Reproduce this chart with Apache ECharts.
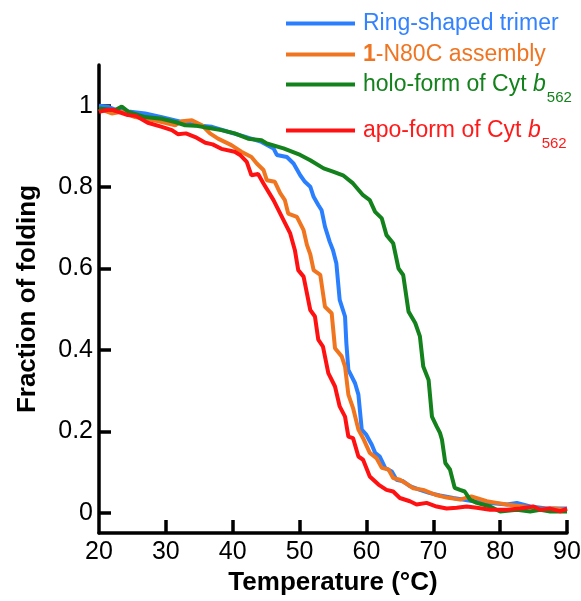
<!DOCTYPE html>
<html>
<head>
<meta charset="utf-8">
<script src="https://cdn.jsdelivr.net/npm/echarts@6/dist/echarts.min.js"></script>
<style>
    html, body { margin: 0; padding: 0; background: #fff; }
    #main { width: 581px; height: 601px; }
</style>
</head>
<body>
<div id="main"></div>
<script>
// 温度 / 折叠分数 数据
const ringT = [20, 21.4, 22.5, 24.4, 26.9, 29.4, 31.9, 34.4, 36.9, 39.3, 41.8, 44.3, 46.1, 46.6, 48.1, 49.1, 50.1, 50.8, 51.6, 52.1, 52.8, 53.3, 53.8, 54.5, 55, 55.5, 56, 56.8, 57, 57.3, 58.3, 58.8, 59.3, 60, 60.8, 61.3, 62, 62.8, 63.8, 64.5, 65.5, 66.5, 68, 69.5, 71, 73, 76, 78.5, 81, 82.5, 84.5, 87, 90]
const ringV = [1.0, 0.997, 0.99, 0.986, 0.981, 0.972, 0.962, 0.952, 0.948, 0.936, 0.924, 0.911, 0.895, 0.879, 0.874, 0.858, 0.829, 0.813, 0.801, 0.776, 0.756, 0.743, 0.703, 0.666, 0.645, 0.613, 0.523, 0.482, 0.416, 0.351, 0.318, 0.29, 0.204, 0.191, 0.167, 0.147, 0.138, 0.11, 0.101, 0.081, 0.077, 0.065, 0.056, 0.048, 0.042, 0.036, 0.028, 0.024, 0.02, 0.024, 0.015, 0.01, 0.01]

const n80cT = [20, 21.9, 23.4, 25.4, 27.4, 29.4, 31.4, 32.4, 33.9, 35.4, 36.6, 37.8, 39.8, 41.3, 42.8, 43.6, 44.6, 45.1, 46.3, 47.1, 47.8, 48.3, 49.6, 50.6, 51.1, 51.6, 52.1, 53.1, 53.8, 54.8, 55.3, 56.3, 56.8, 57.3, 58, 58.8, 59.5, 60.5, 61.5, 62.3, 63.3, 64, 65, 65.8, 67, 68.5, 70.3, 72, 74, 75.7, 78, 79.5, 81, 83.5, 86, 88, 90]
const n80cV = [0.993, 0.981, 0.985, 0.972, 0.967, 0.96, 0.952, 0.962, 0.964, 0.952, 0.932, 0.919, 0.903, 0.887, 0.874, 0.858, 0.842, 0.817, 0.813, 0.785, 0.768, 0.735, 0.727, 0.694, 0.658, 0.635, 0.596, 0.584, 0.506, 0.49, 0.404, 0.384, 0.359, 0.29, 0.257, 0.204, 0.183, 0.147, 0.134, 0.11, 0.106, 0.085, 0.081, 0.073, 0.06, 0.056, 0.044, 0.037, 0.032, 0.04, 0.028, 0.024, 0.02, 0.015, 0.009, 0.01, 0.007]

const holoT = [20, 22.4, 23.4, 24.4, 26.9, 29.4, 31.4, 32.9, 34.4, 36.9, 38.3, 40.3, 42.3, 44.3, 45.1, 47.6, 50.1, 51.6, 53.6, 55, 56.5, 58, 59.5, 60.5, 61.3, 62.3, 63, 64, 64.8, 65.5, 66.3, 67.3, 68, 68.5, 69.3, 69.8, 70.5, 71, 71.3, 71.8, 72.5, 73.2, 74, 74.7, 75.5, 76.5, 78.5, 80, 82.5, 84.5, 86, 87.5, 90]
const holoV = [0.993, 0.989, 0.998, 0.985, 0.972, 0.968, 0.96, 0.952, 0.951, 0.944, 0.94, 0.932, 0.919, 0.915, 0.907, 0.895, 0.879, 0.866, 0.846, 0.838, 0.829, 0.809, 0.78, 0.768, 0.739, 0.723, 0.682, 0.662, 0.6, 0.584, 0.494, 0.466, 0.433, 0.359, 0.326, 0.236, 0.212, 0.196, 0.179, 0.122, 0.106, 0.061, 0.056, 0.052, 0.032, 0.024, 0.015, 0.003, 0.007, 0.003, 0.007, 0.003, 0.003]

const apoT = [20, 21.4, 22, 24.3, 25.5, 27.3, 29.4, 30.9, 31.8, 33, 34.4, 35.9, 37, 38.3, 40.3, 41.1, 42.1, 42.8, 43.8, 44.6, 46.1, 47.6, 48.6, 49.3, 49.8, 50.6, 51.6, 52.3, 52.8, 53.5, 54.3, 55.3, 56, 56.8, 57.3, 58, 58.8, 59.5, 60.5, 61.8, 63, 64, 65, 66.5, 67.5, 69, 70.5, 72, 73.5, 75, 76.5, 78.5, 81, 83, 85, 86, 87.5, 89, 90]
const apoV = [0.985, 0.99, 0.99, 0.977, 0.975, 0.958, 0.948, 0.94, 0.93, 0.932, 0.923, 0.909, 0.905, 0.894, 0.887, 0.879, 0.862, 0.829, 0.832, 0.809, 0.768, 0.719, 0.686, 0.645, 0.596, 0.58, 0.498, 0.482, 0.425, 0.408, 0.343, 0.31, 0.261, 0.236, 0.187, 0.183, 0.138, 0.13, 0.089, 0.069, 0.056, 0.052, 0.036, 0.028, 0.02, 0.024, 0.015, 0.01, 0.012, 0.015, 0.012, 0.007, 0.007, 0.01, 0.015, 0.007, 0.01, 0.003, 0.01]

const xTicks = [30, 40, 50, 60, 70, 80, 90]
const yTicks = [0, 0.2, 0.4, 0.6, 0.8, 1]

const names = ['Ring-shaped trimer', '1-N80C assembly', 'holo-form of Cyt b562', 'apo-form of Cyt b562']
const colors = ['#2a7fff', '#f0751e', '#13821c', '#ff1111']

const font = 'Liberation Sans, Arial, sans-serif'

function zip(t, v) {
    return t.map(function (x, i) { return [x, v[i]] })
}

function legendFor(idx, top, label, rich) {
    return {
        data: [names[idx]],
        left: 286,
        top: top,
        orient: 'vertical',
        icon: 'rect',
        itemWidth: 69,
        itemHeight: 4,
        selectedMode: false,
        padding: 0,
        formatter: function () { return label },
        textStyle: { rich: rich }
    }
}

const main = { fontFamily: font, fontSize: 23, padding: [0, 0, 0, 3] }
function tok(extra, color) {
    return Object.assign({}, main, extra, { color: color })
}

const option = {
    animation: false,
    grid: {
        left: 99,
        right: 14,
        top: 65,
        bottom: 68,
        outerBoundsMode: 'none'
    },
    legend: [
        legendFor(0, 12, '{n|Ring-shaped trimer}', { n: tok({}, '#3382ff') }),
        legendFor(1, 43, '{b|1}{n|-N80C assembly}', {
            b: tok({ fontWeight: 'bold' }, '#f07522'),
            n: tok({ padding: 0 }, '#f07522')
        }),
        legendFor(2, 73, '{n|holo-form of Cyt }{i|b}{s|562}', {
            n: tok({ verticalAlign: 'bottom', padding: [9, 0, 9, 3] }, '#13821c'),
            i: tok({ fontStyle: 'italic', verticalAlign: 'bottom', padding: [9, 0, 9, 0] }, '#13821c'),
            s: { fontFamily: font, fontSize: 15, color: '#13821c', verticalAlign: 'bottom', padding: [0, 0, 0, 1] }
        }),
        legendFor(3, 119, '{n|apo-form of Cyt }{i|b}{s|562}', {
            n: tok({ verticalAlign: 'bottom', padding: [9, 0, 9, 3] }, '#ff1a1a'),
            i: tok({ fontStyle: 'italic', verticalAlign: 'bottom', padding: [9, 0, 9, 0] }, '#ff1a1a'),
            s: { fontFamily: font, fontSize: 15, color: '#ff1a1a', verticalAlign: 'bottom', padding: [0, 0, 0, 1] }
        })
    ],
    xAxis: {
        type: 'value',
        min: 20,
        max: 90,
        interval: 10,
        name: 'Temperature (°C)',
        nameLocation: 'middle',
        nameGap: 35,
        nameTextStyle: { fontFamily: font, fontSize: 26, fontWeight: 'bold', color: '#000' },
        axisLine: { onZero: false, lineStyle: { color: '#000', width: 3.5 } },
        axisTick: {
            inside: true,
            length: 13,
            customValues: xTicks,
            lineStyle: { color: '#000', width: 3.5 }
        },
        axisLabel: { fontFamily: font, fontSize: 25, color: '#000', margin: 7 },
        splitLine: { show: false }
    },
    yAxis: {
        type: 'value',
        min: -0.05,
        max: 1.1,
        name: 'Fraction of folding',
        nameLocation: 'middle',
        nameGap: 58,
        nameTextStyle: { fontFamily: font, fontSize: 26, fontWeight: 'bold', color: '#000' },
        axisLine: { show: true, onZero: false, lineStyle: { color: '#000', width: 3.5 } },
        axisTick: {
            show: true,
            inside: true,
            length: 12,
            customValues: yTicks,
            lineStyle: { color: '#000', width: 3.5 }
        },
        axisLabel: {
            fontFamily: font,
            fontSize: 25,
            color: '#000',
            margin: 6,
            customValues: yTicks
        },
        splitLine: { show: false }
    },
    series: [
        { name: names[0], type: 'line', data: zip(ringT, ringV) },
        { name: names[1], type: 'line', data: zip(n80cT, n80cV) },
        { name: names[2], type: 'line', data: zip(holoT, holoV) },
        { name: names[3], type: 'line', data: zip(apoT, apoV) }
    ].map(function (s, i) {
        s.showSymbol = false
        s.symbol = 'none'
        s.color = colors[i]
        s.lineStyle = { width: 4, color: colors[i] }
        return s
    })
}

const chart = echarts.init(document.getElementById('main'))
chart.setOption(option)
</script>
</body>
</html>
